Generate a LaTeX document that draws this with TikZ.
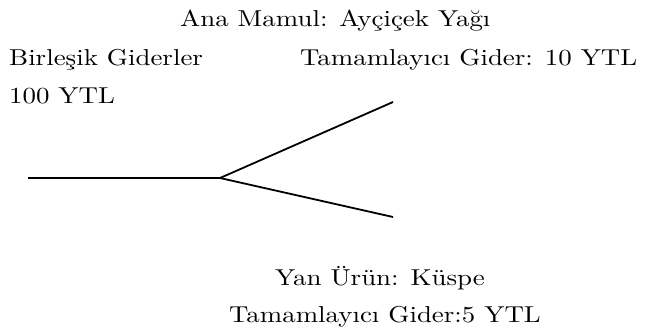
\documentclass[tikz,border=0pt]{standalone}
\usepackage{graphicx}
% text face: the 10pt design of Latin Modern, scaled up (heavier strokes than the 17pt design)
\font\labelfont="[lmroman10-regular]" at 23pt
\tikzset{
  label/.style={anchor=base west, inner sep=0pt, font=\labelfont},
  branch/.style={line width=1.8pt, line cap=butt}
}
\newcommand{\wide}[1]{\scalebox{1.17}[1]{#1}}
\begin{document}
\begin{tikzpicture}[x=1pt, y=-1pt]
  \useasboundingbox (0,0) rectangle (647,333);
  % texts
  \node[label] (main)   at (180,26)    {\wide{Ana Mamul: Ayçiçek Yağı}};
  \node[label] (joint)  at (9,65)      {\wide{Birleşik Giderler}};
  \node[label] (jointv) at (9,103)     {\wide{100 YTL}};
  \node[label] (mainc)  at (300,65)    {\wide{Tamamlayıcı Gider: 10 YTL}};
  \node[label] (by)     at (275,285.5) {\wide{Yan Ürün: Küspe}};
  \node[label] (byc)    at (229,322.5) {\wide{Tamamlayıcı Gider:5 YTL}};
  % split-off point and branches
  \coordinate (start) at (28,178);
  \coordinate (fork)  at (220,178);
  \coordinate (up)    at (393,102);
  \coordinate (down)  at (393,217);
  \draw[branch] (start) -- (fork);
  \draw[branch] (fork) -- (up);
  \draw[branch] (fork) -- (down);
\end{tikzpicture}
\end{document}
